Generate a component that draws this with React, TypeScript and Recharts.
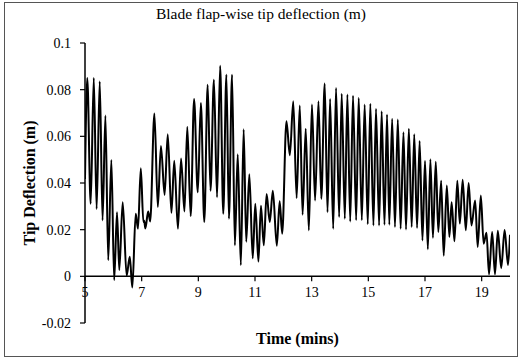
import React from 'react';
import { LineChart, Line, XAxis, YAxis, ReferenceLine, Label } from 'recharts';

// time in minutes at each peak / trough
const TIME = [
  5.0, 5.08, 5.2, 5.31, 5.41, 5.52, 5.62, 5.72, 5.82, 5.93,
  6.03, 6.13, 6.21, 6.33, 6.47, 6.58, 6.67, 6.79, 6.87, 6.97,
  7.06, 7.09, 7.13, 7.23, 7.3, 7.45, 7.57, 7.68, 7.81, 7.92,
  8.05, 8.15, 8.28, 8.39, 8.51, 8.61, 8.73, 8.85, 8.98, 9.09,
  9.21, 9.33, 9.43, 9.55, 9.66, 9.77, 9.88, 9.99, 10.08, 10.19,
  10.29, 10.39, 10.5, 10.6, 10.69, 10.8, 10.92, 11.01, 11.12, 11.21,
  11.31, 11.41, 11.52, 11.63, 11.77, 11.87, 11.96, 12.11, 12.23, 12.35,
  12.47, 12.58, 12.68, 12.79, 12.9, 13.01, 13.12, 13.24, 13.34, 13.46,
  13.56, 13.65, 13.76, 13.86, 13.97, 14.06, 14.17, 14.26, 14.36, 14.46,
  14.57, 14.66, 14.77, 14.87, 14.98, 15.07, 15.18, 15.27, 15.38, 15.47,
  15.57, 15.66, 15.74, 15.84, 15.94, 16.04, 16.14, 16.24, 16.33, 16.43,
  16.53, 16.62, 16.72, 16.81, 16.91, 17.0, 17.1, 17.19, 17.28, 17.38,
  17.47, 17.57, 17.66, 17.77, 17.86, 17.94, 18.04, 18.14, 18.23, 18.33,
  18.44, 18.54, 18.64, 18.77, 18.86, 18.97, 19.07, 19.17, 19.26, 19.37,
  19.47, 19.57, 19.69, 19.81, 19.93, 20.0,
];

// blade tip deflection in metres
const DEFLECTION = [
  0.0417, 0.085, 0.0311, 0.085, 0.0289, 0.0835, 0.024, 0.0689, 0.0069, 0.0499,
  -0.0016, 0.0275, 0.0027, 0.0318, 0.0003, 0.0084, -0.0048, 0.0268, 0.0204, 0.0463,
  0.0233, 0.0238, 0.0205, 0.0278, 0.0235, 0.0698, 0.0297, 0.0559, 0.0349, 0.0609,
  0.0272, 0.0495, 0.0204, 0.0505, 0.0278, 0.0641, 0.0258, 0.076, 0.036, 0.0743,
  0.0233, 0.0821, 0.0367, 0.0843, 0.0339, 0.0902, 0.0268, 0.0864, 0.0247, 0.0864,
  0.0133, 0.0523, 0.0048, 0.063, 0.0148, 0.0438, 0.0077, 0.0311, 0.0063, 0.0303,
  0.0133, 0.0353, 0.0233, 0.0367, 0.0131, 0.0322, 0.0183, 0.0665, 0.0519, 0.075,
  0.0335, 0.0732, 0.0264, 0.0633, 0.0197, 0.0736, 0.0325, 0.075, 0.0332, 0.0826,
  0.0275, 0.076, 0.0204, 0.0807, 0.0254, 0.0783, 0.0247, 0.0779, 0.0235, 0.0774,
  0.024, 0.0765, 0.024, 0.0736, 0.0223, 0.074, 0.0218, 0.0718, 0.0218, 0.0708,
  0.0221, 0.0694, 0.0221, 0.0675, 0.0211, 0.0672, 0.0204, 0.0618, 0.0201, 0.0633,
  0.0211, 0.0609, 0.0207, 0.058, 0.0154, 0.0495, 0.0116, 0.0502, 0.0165, 0.0491,
  0.019, 0.041, 0.0088, 0.0389, 0.0169, 0.0318, 0.015, 0.041, 0.0226, 0.0414,
  0.0197, 0.04, 0.0218, 0.0325, 0.0126, 0.0346, 0.014, 0.0187, 0.0009, 0.019,
  0.0009, 0.0195, 0.0035, 0.0199, 0.0048, 0.0178,
];

const X_TICKS = [5, 7, 9, 11, 13, 15, 17, 19];
const Y_TICKS = [-0.02, 0, 0.02, 0.04, 0.06, 0.08, 0.1];

const data = TIME.map((t, i) => ({ t, v: DEFLECTION[i] }));

const FONT = '"Liberation Serif", "DejaVu Serif", serif';
// distance in px between the bottom of the plot (-0.02) and the zero line
const ZERO_SHIFT = 46.7;

const ZeroAxisTick = (props: any) => {
  const { x, y, payload } = props;
  return (
    <g transform={`translate(${x},${y - ZERO_SHIFT})`}>
      <line x1={0} x2={0} y1={0} y2={5} stroke="#000" strokeWidth={1.2} />
      <text x={0} y={21} textAnchor="middle" fontSize={14} fontFamily={FONT} fill="#000">
        {payload.value}
      </text>
    </g>
  );
};

const App = () => {
  return (
    <div
      style={{
        position: 'absolute',
        left: 4,
        top: 2,
        width: 514,
        height: 355,
        boxSizing: 'border-box',
        border: '1px solid #555',
        background: '#fff',
      }}
    >
      <div
        style={{
          position: 'absolute',
          top: 2,
          left: 0,
          width: 512,
          textAlign: 'center',
          fontFamily: FONT,
          fontSize: 15.5,
          color: '#000',
        }}
      >
        Blade flap-wise tip deflection (m)
      </div>
      <LineChart
        width={512}
        height={353}
        data={data}
        margin={{ top: 40, right: 7, bottom: 0, left: 0 }}
      >
        <XAxis
          dataKey="t"
          type="number"
          domain={[5, 20]}
          ticks={X_TICKS}
          allowDataOverflow
          height={33}
          axisLine={false}
          tickLine={false}
          tickSize={0}
          tickMargin={0}
          tick={<ZeroAxisTick />}
        >
          <Label
            value="Time (mins)"
            position="insideBottom"
            offset={12}
            style={{ fontFamily: FONT, fontSize: 16, fontWeight: 'bold', fill: '#000' }}
          />
        </XAxis>
        <YAxis
          type="number"
          domain={[-0.02, 0.1]}
          ticks={Y_TICKS}
          width={80}
          axisLine={{ stroke: '#000', strokeWidth: 1.5 }}
          tickLine={{ stroke: '#000', strokeWidth: 1.2 }}
          tickSize={5}
          tickMargin={9}
          tickFormatter={(v: number) => String(+v.toFixed(2))}
          tick={{ fontFamily: FONT, fontSize: 14, fill: '#000' }}
        >
          <Label
            value="Tip Deflection (m)"
            angle={-90}
            position="insideLeft"
            offset={24}
            style={{ textAnchor: 'middle', fontFamily: FONT, fontSize: 16, fontWeight: 'bold', fill: '#000' }}
          />
        </YAxis>
        <ReferenceLine y={0} stroke="#000" strokeWidth={1.5} />
        <Line
          type="monotone"
          dataKey="v"
          stroke="#000"
          strokeWidth={2}
          dot={false}
          isAnimationActive={false}
        />
      </LineChart>
    </div>
  );
};

export default App;
